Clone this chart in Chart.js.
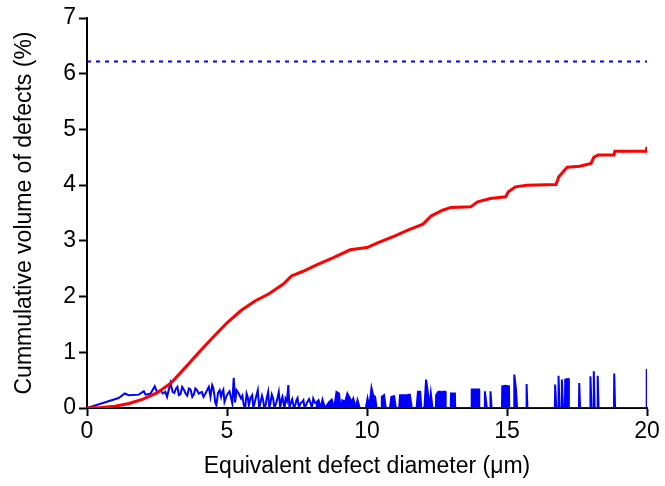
<!DOCTYPE html>
<html>
<head>
<meta charset="utf-8">
<script src="https://cdn.jsdelivr.net/npm/chart.js@4"></script>
<style>
  body { margin: 0; background: #fff; }
</style>
</head>
<body>
<canvas id="chart" width="665" height="486"></canvas>
<script>
// cumulative volume (red)
const redX = [0, 0.5, 1, 1.5, 2, 2.5, 3, 3.5, 4, 4.5, 5, 5.5, 6, 6.5, 7, 7.3, 7.7, 8.2, 8.8, 9.4, 10, 10.4, 11, 11.5, 12, 12.3, 12.7, 13, 13.7, 13.95, 14.4, 14.95, 15.05, 15.3, 15.7, 16.75, 16.85, 17.15, 17.6, 18.0, 18.1, 18.25, 18.82, 18.85, 19.97, 20];
const redY = [0, 0.01, 0.03, 0.08, 0.16, 0.27, 0.45, 0.72, 1.0, 1.27, 1.53, 1.75, 1.92, 2.05, 2.22, 2.37, 2.45, 2.57, 2.7, 2.84, 2.88, 2.97, 3.09, 3.2, 3.3, 3.45, 3.55, 3.6, 3.61, 3.7, 3.76, 3.79, 3.88, 3.97, 4.0, 4.01, 4.15, 4.32, 4.34, 4.39, 4.5, 4.54, 4.54, 4.61, 4.61, 4.69];

// per-size volume, small diameters (blue, noisy part)
const blueX = [0, 1.13, 1.35, 1.49, 1.85, 2.03, 2.09, 2.27, 2.42, 2.5, 2.62, 2.71, 2.8, 2.86, 2.98, 3.06, 3.12, 3.18, 3.23, 3.28, 3.34, 3.4, 3.46, 3.52, 3.58, 3.64, 3.7, 3.76, 3.82, 3.87, 3.93, 3.99,
  4.1, 4.16, 4.23, 4.29, 4.35, 4.41, 4.47, 4.51, 4.55, 4.58, 4.62, 4.68, 4.74, 4.79, 4.83, 4.87, 4.91, 4.97,
  5.03, 5.09, 5.15, 5.19, 5.24, 5.29, 5.34, 5.42, 5.5, 5.55, 5.6, 5.65, 5.7, 5.74, 5.78, 5.84, 5.9, 5.94, 5.98,
  6.04, 6.1, 6.15, 6.2, 6.25, 6.29, 6.33, 6.38, 6.42, 6.47, 6.51, 6.55, 6.6, 6.65, 6.69, 6.73, 6.79, 6.85, 6.9, 6.94, 6.98,
  7.03, 7.06, 7.09, 7.14, 7.19, 7.23, 7.27, 7.33, 7.39, 7.44, 7.48, 7.52, 7.57, 7.62, 7.69, 7.73, 7.77, 7.82, 7.87, 7.93, 7.99,
  8.03, 8.08, 8.12, 8.16];
const blueY = [0, 0.18, 0.26, 0.23, 0.24, 0.30, 0.24, 0.26, 0.39, 0.29, 0.32, 0.26, 0.29, 0.2, 0.45, 0.29, 0.27, 0.35, 0.38, 0.23, 0.25, 0.38, 0.33, 0.26, 0.22, 0.35, 0.33, 0.2, 0.25, 0.35, 0.32, 0.26,
  0.29, 0.2, 0.26, 0.32, 0.38, 0.2, 0.41, 0.36, 0.23, 0.1, 0.05, 0.27, 0.32, 0.2, 0.29, 0.33, 0.11, 0.2,
  0.26, 0.3, 0.17, 0.08, 0.54, 0.1, 0.32, 0.26, 0.17, 0.22, 0.05, 0, 0.26, 0.2, 0.05, 0.18, 0.23, 0, 0.08,
  0.2, 0.32, 0, 0.11, 0.22, 0.14, 0, 0.05, 0.18, 0.29, 0, 0.08, 0.24, 0.17, 0, 0.05, 0.15, 0.29, 0, 0.14, 0.2,
  0.05, 0, 0.17, 0.12, 0.41, 0, 0.08, 0.16, 0, 0.05, 0.14, 0.18, 0, 0.08, 0.11, 0.14, 0, 0.05, 0.11, 0.16, 0.08,
  0, 0.17, 0.12, 0.08];

// per-size volume, large diameters (blue, sparse spikes)
const spikeX = [8.16, 8.27, 8.35, 8.41, 8.5, 8.65, 8.74, 8.83, 8.91, 9.0, 9.06, 9.12, 9.22, 9.3, 9.36, 9.46, 9.51, 9.6, 9.66, 9.74, 9.96, 10.02, 10.08, 10.16, 10.22, 10.29, 10.34, 10.5, 10.53, 10.61, 10.67, 10.82, 10.87, 10.97, 11.03, 11.15, 11.18, 11.33, 11.41, 11.53, 11.6, 11.77, 11.82, 11.9, 11.94, 12.05, 12.11, 12.17, 12.23, 12.28, 12.34, 12.46, 12.47, 12.55, 12.62, 12.64, 12.7, 12.8, 12.81, 12.99, 13.0, 13.14, 13.15, 13.73, 13.74, 13.88, 14.0, 14.01, 14.2, 14.21, 14.28, 14.4, 14.41, 14.45, 14.82, 14.83, 14.95, 15.07, 15.08, 15.25, 15.26, 15.32, 15.36, 15.69, 15.7, 15.73, 16.71, 16.72, 16.76, 16.83, 16.84, 16.88, 16.95, 16.96, 17.0, 17.07, 17.08, 17.19, 17.21, 17.57, 17.58, 17.61, 17.97, 17.98, 18.02, 18.09, 18.1, 18.13, 18.23, 18.24, 18.27, 18.82, 18.83, 18.86, 19.98, 19.99, 20];
const spikeY = [0.08, 0.14, 0, 0.15, 0, 0.11, 0.15, 0, 0.29, 0.26, 0, 0.14, 0.11, 0.26, 0.2, 0.11, 0.17, 0, 0.14, 0, 0, 0.17, 0, 0.36, 0.23, 0.2, 0, 0, 0.2, 0.23, 0, 0, 0.2, 0.21, 0, 0, 0.23, 0.23, 0.23, 0.24, 0, 0, 0.29, 0.29, 0, 0, 0.51, 0.29, 0, 0.26, 0, 0, 0.23, 0.29, 0.29, 0, 0.29, 0.29, 0, 0, 0.26, 0.26, 0, 0, 0.33, 0.33, 0.33, 0, 0, 0.3, 0, 0, 0.3, 0, 0, 0.39, 0.4, 0.39, 0, 0, 0.6, 0.34, 0, 0, 0.43, 0, 0, 0.42, 0, 0, 0.58, 0, 0, 0.51, 0, 0, 0.51, 0.52, 0, 0, 0.45, 0, 0, 0.57, 0, 0, 0.66, 0, 0, 0.58, 0, 0, 0.62, 0, 0, 0.70, 0];

// total level (dashed)
const totalLevel = 6.22;

const xTicks = [0, 5, 10, 15, 20];
const yTicks = [0, 1, 2, 3, 4, 5, 6, 7];

const toPts = (xs, ys) => xs.map((x, i) => ({ x: x, y: ys[i] }));
const font = { family: "'Liberation Sans', Arial, sans-serif", size: 23 };

new Chart(document.getElementById("chart"), {
  type: "line",
  data: {
    datasets: [
      {
        data: toPts(redX, redY),
        borderColor: "#ff0000",
        borderWidth: 3,
        pointRadius: 0,
        tension: 0
      },
      {
        data: toPts([0, 20], [totalLevel, totalLevel]),
        borderColor: "#0000ff",
        borderWidth: 2,
        borderDash: [4, 5],
        pointRadius: 0
      },
      {
        data: toPts(blueX, blueY),
        borderColor: "#0000ff",
        borderWidth: 2,
        pointRadius: 0,
        tension: 0
      },
      {
        data: toPts(spikeX, spikeY),
        borderColor: "#0000ff",
        backgroundColor: "#0000ff",
        borderWidth: 2,
        pointRadius: 0,
        tension: 0,
        fill: "origin"
      }
    ]
  },
  options: {
    responsive: false,
    animation: false,
    layout: { padding: { top: 18, right: 18, bottom: 0, left: 0 } },
    plugins: { legend: { display: false }, tooltip: { enabled: false } },
    scales: {
      x: {
        type: "linear",
        min: 0,
        max: 20,
        afterBuildTicks: s => { s.ticks = xTicks.map(v => ({ value: v })); },
        afterFit: s => { s.height = 78; },
        ticks: { color: "#000", font: font, padding: 2, maxRotation: 0 },
        grid: { drawOnChartArea: false, tickLength: 8, tickWidth: 2, tickColor: "#000" },
        border: { color: "#000", width: 2 },
        title: {
          display: true,
          text: "Equivalent defect diameter (μm)",
          color: "#000",
          font: font,
          padding: { top: 0, bottom: 6 }
        }
      },
      y: {
        min: 0,
        max: 7,
        afterBuildTicks: s => { s.ticks = yTicks.map(v => ({ value: v })); },
        afterFit: s => { s.width = 87; },
        ticks: { color: "#000", font: font, padding: 3 },
        grid: { drawOnChartArea: false, tickLength: 8, tickWidth: 2, tickColor: "#000" },
        border: { color: "#000", width: 2 },
        title: {
          display: true,
          text: "Cummulative volume of defects (%)",
          color: "#000",
          font: font,
          padding: { top: 11, bottom: 0 }
        }
      }
    }
  }
});
</script>
</body>
</html>
